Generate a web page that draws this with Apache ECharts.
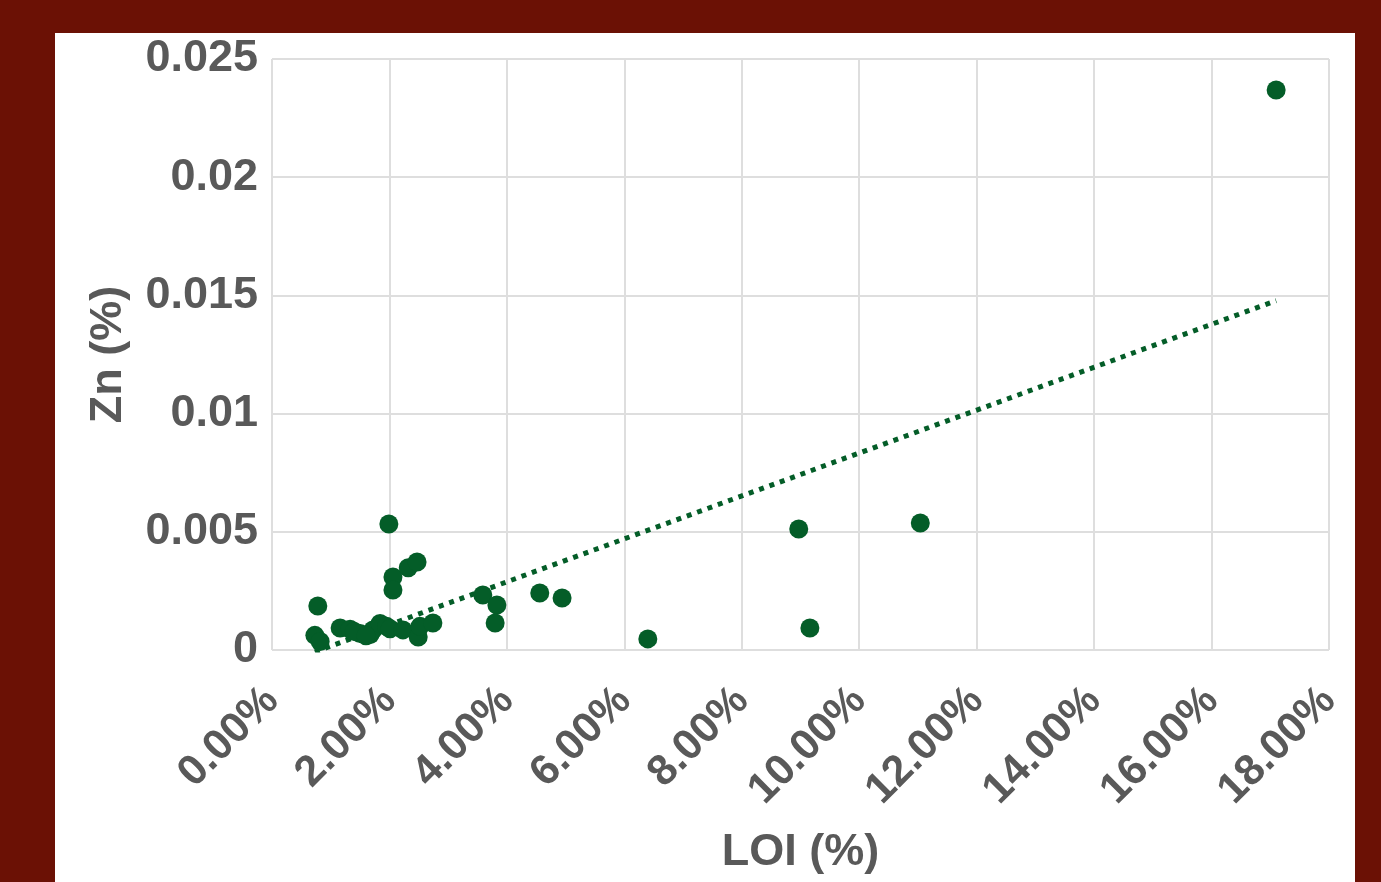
<!DOCTYPE html>
<html>
<head>
<meta charset="utf-8">
<script src="https://cdn.jsdelivr.net/npm/echarts@6/dist/echarts.min.js"></script>
<style>
  html, body { margin: 0; padding: 0; width: 1381px; height: 882px; background: #6b1105; overflow: hidden; }
  #panel { position: absolute; left: 55px; top: 33px; width: 1300px; height: 849px; background: #ffffff; }
  #chart { width: 100%; height: 100%; }
</style>
</head>
<body>
<div id="panel"><div id="chart"></div></div>
<script>
// LOI (%) vs Zn (%) samples
const loi = [0.78, 0.73, 0.82, 1.99, 2.06, 2.06, 2.32, 2.47, 1.16, 1.33, 1.50, 1.67, 1.72, 1.84, 1.95, 2.01,
             2.23, 2.49, 2.52, 2.74, 1.40, 1.60, 3.59, 3.83, 3.80, 4.56, 4.94, 6.40, 8.97, 9.16, 11.04, 17.10];
const zn  = [0.00186, 0.00062, 0.00036, 0.00533, 0.00309, 0.00254, 0.00348, 0.00372, 0.00093, 0.00088, 0.00070,
             0.00065, 0.00085, 0.00112, 0.00100, 0.00090, 0.00085, 0.00055, 0.00100, 0.00114, 0.00078, 0.00060,
             0.00233, 0.00190, 0.00114, 0.00241, 0.00220, 0.00047, 0.00512, 0.00093, 0.00537, 0.02369];
const yTickLabels = ['0', '0.005', '0.01', '0.015', '0.02', '0.025'];
const xTickLabels = ['0.00%', '2.00%', '4.00%', '6.00%', '8.00%', '10.00%', '12.00%', '14.00%', '16.00%', '18.00%'];

// least-squares linear trend over the samples
const n = loi.length;
const mx = loi.reduce((a, b) => a + b, 0) / n;
const my = zn.reduce((a, b) => a + b, 0) / n;
let sxy = 0, sxx = 0;
for (let i = 0; i < n; i++) { sxy += (loi[i] - mx) * (zn[i] - my); sxx += (loi[i] - mx) ** 2; }
const slope = sxy / sxx, icpt = my - slope * mx;
const xMin = Math.min(...loi), xMax = Math.max(...loi);
const trend = [[xMin, icpt + slope * xMin], [xMax, icpt + slope * xMax]];

const green = '#045d28';
const textColor = '#595959';
const font = "'Liberation Sans', Arial, sans-serif";

const chart = echarts.init(document.getElementById('chart'), null, { renderer: 'canvas' });
chart.setOption({
  animation: false,
  backgroundColor: '#ffffff',
  grid: { left: 217, top: 26, right: 26, bottom: 232 },
  xAxis: {
    type: 'value', min: 0, max: 18, interval: 2,
    name: 'LOI (%)', nameLocation: 'middle', nameGap: 180,
    nameTextStyle: { color: textColor, fontSize: 45, fontWeight: 'bold', fontFamily: font },
    axisLine: { show: false }, axisTick: { show: false },
    splitLine: { show: true, lineStyle: { color: '#dedede', width: 2 } },
    axisLabel: {
      rotate: 45, margin: 44, color: textColor, fontSize: 43, fontWeight: 'bold', fontFamily: font,
      formatter: v => xTickLabels[Math.round(v / 2)]
    }
  },
  yAxis: {
    type: 'value', min: 0, max: 0.025, interval: 0.005,
    name: 'Zn (%)', nameLocation: 'middle', nameGap: 141,
    nameTextStyle: { color: textColor, fontSize: 45, fontWeight: 'bold', fontFamily: font },
    axisLine: { show: false }, axisTick: { show: false },
    splitLine: { show: true, lineStyle: { color: '#dedede', width: 2 } },
    axisLabel: {
      margin: 14, color: textColor, fontSize: 45, fontWeight: 'bold', fontFamily: font,
      padding: [5, 0, 0, 0],
      formatter: v => yTickLabels[Math.round(v / 0.005)]
    }
  },
  series: [
    {
      type: 'line', data: trend, symbol: 'none', z: 3,
      lineStyle: { color: green, width: 5, type: [5, 6] }
    },
    {
      type: 'scatter', data: loi.map((x, i) => [x, zn[i]]), symbolSize: 19, z: 4,
      itemStyle: { color: green, opacity: 1 }
    }
  ]
});
</script>
</body>
</html>
